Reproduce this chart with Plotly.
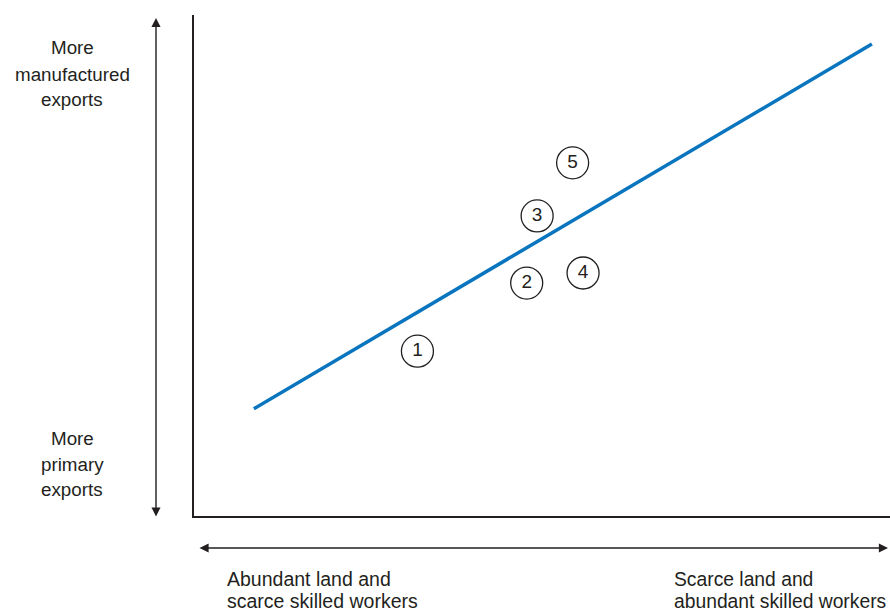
import plotly.graph_objects as go

# Data (arbitrary units 0..10)
line_x = [0.86, 9.74]
line_y = [2.14, 9.42]
country_labels = ["1", "2", "3", "4", "5"]
country_x = [3.21, 4.78, 4.93, 5.59, 5.44]
country_y = [3.29, 4.65, 5.99, 4.85, 7.05]

y_top_label = ["More", "manufactured", "exports"]
y_bottom_label = ["More", "primary", "exports"]
x_left_label = ["Abundant land and", "scarce skilled workers"]
x_right_label = ["Scarce land and", "abundant skilled workers"]

TXT = "#231f20"
FONT = "Liberation Sans, Arial, sans-serif"

fig = go.Figure()
fig.add_trace(go.Scatter(x=line_x, y=line_y, mode="lines",
                         line=dict(color="#0a75bf", width=3.5),
                         hoverinfo="skip", showlegend=False))
fig.add_trace(go.Scatter(x=country_x, y=country_y, mode="markers+text",
                         text=country_labels, textposition="middle center",
                         textfont=dict(size=19, color=TXT, family=FONT),
                         marker=dict(size=32, color="white",
                                     line=dict(color=TXT, width=1.3)),
                         showlegend=False))

W, H = 890, 612
L, R, T, B = 194, 0, 15, 96
pw, ph = W - L - R, H - T - B

def px(xp):
    return (xp - L) / pw

def py(yp):
    return (H - B - yp) / ph

ann = []
# vertical double arrow
ann.append(dict(xref="paper", yref="paper", x=px(156), y=py(18), ax=0, ay=500,
                axref="pixel", ayref="pixel", showarrow=True, arrowhead=2, arrowside="end+start",
                arrowsize=1.3, arrowwidth=1.4, arrowcolor=TXT, text=""))
# horizontal double arrow
ann.append(dict(xref="paper", yref="paper", x=px(888), y=py(548), ax=-690, ay=0,
                axref="pixel", ayref="pixel", showarrow=True, arrowhead=2, arrowside="end+start",
                arrowsize=1.3, arrowwidth=1.4, arrowcolor=TXT, text=""))

def add_lines(lines, xc, ys, anchor, size):
    for t, yy in zip(lines, ys):
        ann.append(dict(xref="paper", yref="paper", x=px(xc), y=py(yy), text=t,
                        showarrow=False, xanchor=anchor, yanchor="middle",
                        font=dict(size=size, color=TXT, family=FONT)))

add_lines(y_top_label, 72, [48, 74, 99], "center", 18.8)
add_lines(y_bottom_label, 72, [439, 464, 489], "center", 18.8)
add_lines(x_left_label, 225, [579, 601], "left", 19.5)
add_lines(x_right_label, 672, [579, 601], "left", 19.3)

fig.update_layout(
    width=W, height=H,
    margin=dict(l=L, r=R, t=T, b=B),
    plot_bgcolor="white", paper_bgcolor="white",
    xaxis=dict(range=[0, 10], showgrid=False, zeroline=False, showticklabels=False,
               ticks="", showline=True, linecolor=TXT, linewidth=1.5, fixedrange=True),
    yaxis=dict(range=[0, 10], showgrid=False, zeroline=False, showticklabels=False,
               ticks="", showline=True, linecolor=TXT, linewidth=1.5, fixedrange=True),
    annotations=ann,
    font=dict(family=FONT, color=TXT),
)

fig.write_html("out.html", config={"displayModeBar": False},
               post_script="document.body.style.margin='0px';document.body.style.overflow='hidden';")
